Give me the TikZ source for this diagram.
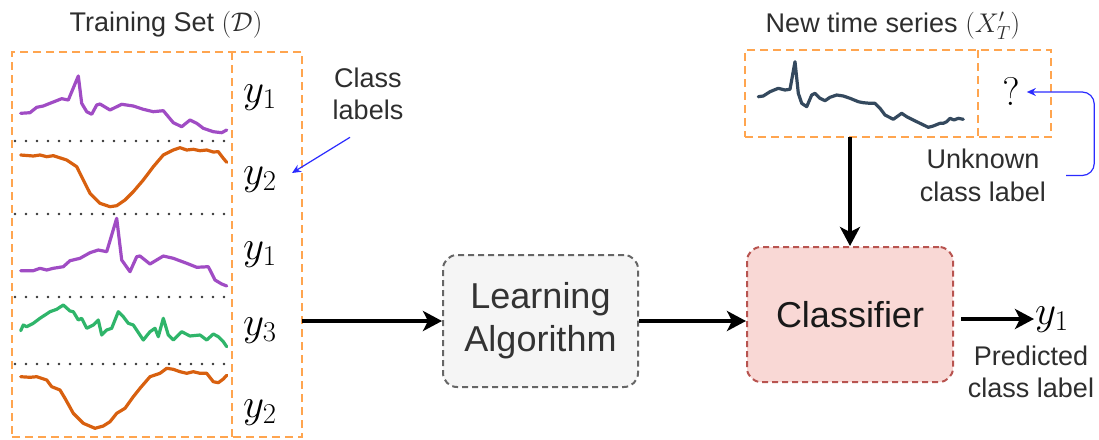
\RequirePackage{fix-cm}
\documentclass[tikz,border=0pt]{standalone}
\usepackage{fontspec}
\setmainfont{Liberation Sans}
\usetikzlibrary{arrows.meta}
\definecolor{dashor}{HTML}{FFA54F}
\definecolor{serpurple}{HTML}{A04CC4}
\definecolor{serorange}{HTML}{D8600F}
\definecolor{sergreen}{HTML}{2FB56A}
\definecolor{serdark}{HTML}{34495E}
\definecolor{clsfill}{HTML}{F9D8D5}
\definecolor{clsdraw}{HTML}{B85450}
\definecolor{lrnfill}{HTML}{F5F5F5}
\definecolor{lrndraw}{HTML}{666666}
\definecolor{noteblue}{HTML}{2B2BFF}
\begin{document}
\begin{tikzpicture}[x=1pt,y=-1pt,
  lbl/.style={font=\fontsize{27}{32.4}\selectfont, text=black!82, align=center, inner sep=0pt},
  biglbl/.style={font=\fontsize{36}{43}\selectfont, align=center},
  mathlbl/.style={font=\fontsize{41}{48}\selectfont, inner sep=0pt, anchor=base west},
  obox/.style={draw=dashor, line width=2.5pt, dash pattern=on 8pt off 5pt, inner sep=0pt, outer sep=0pt},
  odiv/.style={draw=dashor, line width=2.5pt, dash pattern=on 8pt off 5pt},
  dotsep/.style={draw=black!80, line width=2.6pt, dash pattern=on 0pt off 11pt, line cap=round},
  series/.style={line width=3.2pt, line join=round, line cap=round},
  bigarrow/.style={draw=black, line width=3.8pt, -{Stealth[length=19pt,width=20pt,inset=5pt]}},
  bluearrow/.style={draw=noteblue, line width=1.2pt, -{Stealth[length=9pt,width=8pt]}},
  lrnbox/.style={draw=lrndraw, fill=lrnfill, line width=2pt, dash pattern=on 6pt off 4pt, rounded corners=14pt, minimum width=195pt, minimum height=132pt, text=black!80, biglbl},
  clsbox/.style={draw=clsdraw, fill=clsfill, line width=2pt, dash pattern=on 6pt off 4pt, rounded corners=14pt, minimum width=206pt, minimum height=135pt, text=black!90, biglbl}
]
\useasboundingbox (0,0) rectangle (1099,439);

% ---------- training set ----------
\node[lbl] (ttl) at (166,25) {Training Set $(\mathcal{D})$};
\node[obox, minimum width=290pt, minimum height=385pt] (train) at (157,244.5) {};
\draw[odiv] (232,52) -- (232,437);
\foreach \yy in {141,214,297,364} \draw[dotsep] (15,\yy) -- (232,\yy);

\draw[series, serpurple] plot coordinates {(20.7,113.3) (30,112.7) (36.7,107.3) (43.3,106) (50,103.3) (61.7,98.7) (68.3,100) (78.3,76) (81.7,103.3) (86.7,111.7) (91.7,114.3) (96.7,105) (100,104) (110,110) (121.7,104.3) (133.3,106) (143.3,109.3) (153.3,111.7) (163.3,110.7) (173.3,122.7) (181.7,126.7) (190,120) (196.7,123.3) (203.3,128.3) (213.3,131.7) (221.7,132.7) (226.7,130)};
\draw[series, serorange] plot coordinates {(20.7,155) (33.3,156) (40,155) (46.7,156.7) (53.3,155.7) (66.7,160) (76.7,166.7) (83.3,180) (90,193.3) (100,203.3) (110,206.7) (116.7,205.7) (125,200) (133.3,191.7) (143.3,180) (153.3,166.7) (163.3,155) (173.3,150) (180,147.7) (186.7,150) (193.3,149.3) (200,150.7) (206.7,150) (213.3,152) (218.3,151.7) (223.3,158.3) (226.7,162.3)};
\draw[series, serpurple] plot coordinates {(20.7,270.7) (33.3,270.7) (40,268.3) (46.7,270) (53.3,268.3) (63.3,266.7) (70,260.7) (80,258.3) (90,252.7) (98.3,250) (106.7,251.7) (116.7,218.3) (121.7,260) (130,271.7) (136.7,256.7) (140,256) (150,264) (163.3,256) (173.3,258.3) (186.7,263.3) (196.7,267.3) (208.3,266.7) (215,280) (221.7,284) (226.7,286)};
\draw[series, sergreen] plot coordinates {(20.7,330.7) (23.3,325) (26.7,326.7) (33.3,323.3) (40,318.3) (50,311.7) (56.7,309.3) (63.3,305) (70,311) (73.3,311.7) (78.3,320) (81.7,318.3) (86.7,328.3) (93.3,325) (98.3,320) (101.7,335) (106.7,330) (111.7,328.3) (118.3,311.7) (123.3,316.7) (128.3,323.3) (133.3,325) (143.3,340) (150,331.7) (155,328.3) (158.3,336.7) (163.3,318.3) (168.3,335) (173.3,340) (181.7,331.7) (190,336) (200,335) (206.7,340) (213.3,334) (218.3,336.7) (223.3,341.7) (226.7,346.7)};
\draw[series, serorange] plot coordinates {(20.7,376.7) (30,377.3) (36.7,376.7) (46.7,380) (51.7,386.7) (60,390) (65,398.3) (73.3,413.3) (83.3,423.3) (95,428.3) (103.3,426) (110,421.7) (116.7,413.3) (125,408.3) (133.3,396.7) (140,388.3) (150,376.7) (160,373.3) (166.7,368.3) (173.3,369.3) (180,371.7) (186.7,373.3) (193.3,371.7) (200,373.3) (206.7,373.3) (213.3,381.7) (218.3,382.7) (223.3,379) (226.7,375.3)};

\node[mathlbl] (ya) at (243,102) {$y_1$};
\node[mathlbl] (yb) at (243,184) {$y_2$};
\node[mathlbl] (yc) at (243,259) {$y_1$};
\node[mathlbl] (yd) at (243,335) {$y_3$};
\node[mathlbl] (ye) at (243,417) {$y_2$};

% class labels note
\node[lbl] (clab) at (368,94) {Class\\labels};
\coordinate (clabtip) at (292,173);
\draw[bluearrow] ([xshift=-18pt,yshift=-17pt]clab.south) -- (clabtip);

% ---------- new time series ----------
\node[lbl] (nttl) at (893,26) {New time series $(X'_T)$};
\node[obox, minimum width=306pt, minimum height=87pt] (newb) at (898,93.5) {};
\draw[odiv] (978,50) -- (978,137);
\draw[series, serdark] plot coordinates {(758.3,96.7) (763.3,96) (770,91.7) (778.3,88.3) (785,90) (790,89.3) (795,61.7) (798.3,93.3) (801.7,103.3) (806.7,106.7) (811.7,95) (815,93.3) (820,98.3) (825,100.7) (830,97.3) (836.7,95) (843.3,96) (850,98.3) (858.3,101.7) (863.3,102.7) (870,103.3) (875,103.3) (880,108.3) (885,115) (893.3,119.3) (901.7,113.3) (906.7,116.7) (916.7,121.7) (928.3,127.3) (933.3,126) (940,123.3) (943.3,123.3) (946.7,121.7) (950,118.3) (954,120) (958.3,118.3) (963.3,119.3)};
\node[font=\fontsize{40}{48}\selectfont, inner sep=1pt] (q) at (1011,92) {$?$};
\node[lbl] (unk) at (983,175.5) {Unknown\\class label};
\draw[bluearrow, rounded corners=12pt] ([xshift=20pt]unk.east) -- ++(28,0) |- ([xshift=6pt]q.east);

% ---------- learning and classifier ----------
\node[lrnbox] (learn) at (540.5,321) {Learning\\Algorithm};
\node[clsbox] (cls) at (850,314.5) {Classifier};
\node[mathlbl, inner sep=1pt] (pred) at (1034,324) {$y_1$};
\node[lbl] (plab) at (1031,372) {Predicted\\class label};

\draw[bigarrow] (train.east |- learn.west) -- (learn.west);
\draw[bigarrow] (learn.east) -- (learn.east -| cls.west);
\draw[bigarrow] (cls.north |- newb.south) -- (cls.north);
\draw[bigarrow, shorten <=7pt] ([yshift=-4.5pt]cls.east) -- ([yshift=-4.5pt]cls.east -| pred.west);
\end{tikzpicture}
\end{document}
